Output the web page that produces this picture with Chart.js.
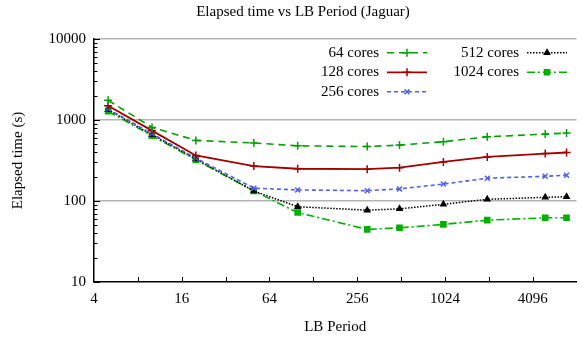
<!DOCTYPE html>
<html>
<head>
<meta charset="utf-8">
<script src="https://cdn.jsdelivr.net/npm/chart.js@4"></script>
<style>
html,body{margin:0;padding:0;background:#fff;}
canvas{display:block;}
</style>
</head>
<body>
<canvas id="c" width="582" height="341"></canvas>
<script>
const lbPeriods = [5, 10, 20, 50, 100, 300, 500, 1000, 2000, 5000, 7000];
const cores64   = [1750, 810, 560, 520, 480, 470, 490, 540, 620, 670, 690];
const cores128  = [1500, 740, 365, 270, 250, 247, 258, 304, 350, 385, 397];
const cores256  = [1370, 676, 338, 144, 137, 134, 141, 162, 191, 202, 208];
const cores512  = [1340, 657, 329, 133, 85, 77, 80, 91, 105, 111, 113];
const cores1024 = [1280, 639, 322, 133, 72, 44.6, 46.7, 51.4, 58, 62, 62];
const xTickLabels = [4, 16, 64, 256, 1024, 4096];
const yTickLabels = [10, 100, 1000, 10000];
const seriesNames = ['64 cores', '128 cores', '256 cores', '512 cores', '1024 cores'];

const FONT = '"Liberation Serif", "DejaVu Serif", serif';

function pts(vals){ return lbPeriods.map((x,i)=>({x:x, y:vals[i]})); }

const styles = [
  {color:'#00a000', dash:[7,5], width:1.6, point:'cross', r:4},
  {color:'#a00000', dash:[], width:1.8, point:'cross', r:4},
  {color:'#5060e0', dash:[4,3], width:1.6, point:'crossRot', r:3.5},
  {color:'#000000', dash:[1.5,1.5], width:1.5, point:'triangle', r:3},
  {color:'#00b000', dash:[8,3,2,3], width:1.6, point:'rect', r:3.6}
];
const allVals = [cores64, cores128, cores256, cores512, cores1024];

const datasets = allVals.map((v,i)=>({
  label: seriesNames[i],
  data: pts(v),
  borderColor: styles[i].color,
  backgroundColor: styles[i].color,
  borderWidth: styles[i].width,
  borderDash: styles[i].dash,
  pointStyle: styles[i].point,
  pointRadius: styles[i].r,
  pointBorderWidth: 1.5,
  pointBorderColor: styles[i].color,
  pointBackgroundColor: styles[i].color,
  tension: 0,
  fill: false
}));

const decorPlugin = {
  id: 'decor',
  afterDraw(chart){
    const ctx = chart.ctx;
    const ca = chart.chartArea;
    const xs = chart.scales.x, ys = chart.scales.y;
    ctx.save();
    ctx.strokeStyle = '#000';
    ctx.lineWidth = 1;
    ctx.setLineDash([]);
    for (let d = 10; d < 10000; d *= 10){
      for (let m = 1; m <= 10; m++){
        const v = d*m;
        const py = Math.round(ys.getPixelForValue(v)) + 0.5;
        const len = (m === 1 || m === 10) ? 6 : 3.5;
        ctx.beginPath();
        ctx.moveTo(ca.left, py);
        ctx.lineTo(ca.left + len, py);
        ctx.stroke();
      }
    }
    for (let v = 8; v <= 4096; v *= 2){
      const px = Math.round(xs.getPixelForValue(v)) + 0.5;
      ctx.beginPath();
      ctx.moveTo(px, ca.bottom);
      ctx.lineTo(px, ca.bottom - 5);
      ctx.stroke();
    }
    ctx.fillStyle = '#000';
    ctx.font = '15px ' + FONT;
    ctx.textAlign = 'center';
    ctx.textBaseline = 'middle';
    ctx.fillText('Elapsed time vs LB Period (Jaguar)', 303, 12);
    ctx.fillText('LB Period', (ca.left + ca.right)/2, 327);
    ctx.save();
    ctx.translate(18, (ca.top + ca.bottom)/2);
    ctx.rotate(-Math.PI/2);
    ctx.fillText('Elapsed time (s)', 0, 0);
    ctx.restore();
    const cols = [
      {textRight: 379, s0: 387, s1: 427},
      {textRight: 519, s0: 527, s1: 567}
    ];
    const rows = [52.7, 72.3, 91.7];
    chart.data.datasets.forEach((ds, i) => {
      const col = cols[i < 3 ? 0 : 1];
      const y = rows[i < 3 ? i : i - 3];
      ctx.fillStyle = '#000';
      ctx.textAlign = 'right';
      ctx.textBaseline = 'middle';
      ctx.font = '15px ' + FONT;
      ctx.fillText(ds.label, col.textRight, y);
      ctx.strokeStyle = ds.borderColor;
      ctx.lineWidth = ds.borderWidth;
      ctx.setLineDash(ds.borderDash);
      ctx.beginPath();
      ctx.moveTo(col.s0, y);
      ctx.lineTo(col.s1, y);
      ctx.stroke();
      ctx.setLineDash([]);
      ctx.fillStyle = ds.borderColor;
      ctx.lineWidth = ds.pointBorderWidth;
      Chart.helpers.drawPoint(ctx, {pointStyle: ds.pointStyle, radius: ds.pointRadius, rotation: 0, borderWidth: ds.pointBorderWidth}, (col.s0 + col.s1)/2, y);
    });
    ctx.restore();
  }
};

new Chart(document.getElementById('c'), {
  type: 'line',
  data: { datasets },
  options: {
    responsive: false,
    animation: false,
    layout: { padding: { top: 39, right: 0, left: 0, bottom: 0 } },
    plugins: { legend: { display: false }, title: { display: false }, tooltip: { enabled: false } },
    scales: {
      x: {
        type: 'logarithmic',
        min: 4, max: 8192,
        afterBuildTicks(s){ s.ticks = xTickLabels.map(v => ({value: v})); },
        afterFit(s){ s.height = 59; },
        grid: { display: true, drawOnChartArea: false, drawTicks: false },
        border: { display: true, color: '#000', width: 1.5 },
        ticks: {
          color: '#000', font: { family: FONT, size: 15 }, padding: 8,
          maxRotation: 0, autoSkip: false,
          callback: (v) => String(v)
        }
      },
      y: {
        type: 'logarithmic',
        min: 10, max: 10000,
        afterBuildTicks(s){ s.ticks = yTickLabels.map(v => ({value: v})); },
        afterFit(s){ s.width = 94; },
        grid: {
          drawTicks: false,
          color: (c) => (c.tick && c.tick.value === 10) ? 'rgba(0,0,0,0)' : '#b4b4b4',
          lineWidth: 1.5
        },
        border: { display: true, color: '#000', width: 1.5 },
        ticks: {
          color: '#000', font: { family: FONT, size: 15 }, padding: 8,
          autoSkip: false,
          callback: (v) => String(v)
        }
      }
    }
  },
  plugins: [decorPlugin]
});
</script>
</body>
</html>
